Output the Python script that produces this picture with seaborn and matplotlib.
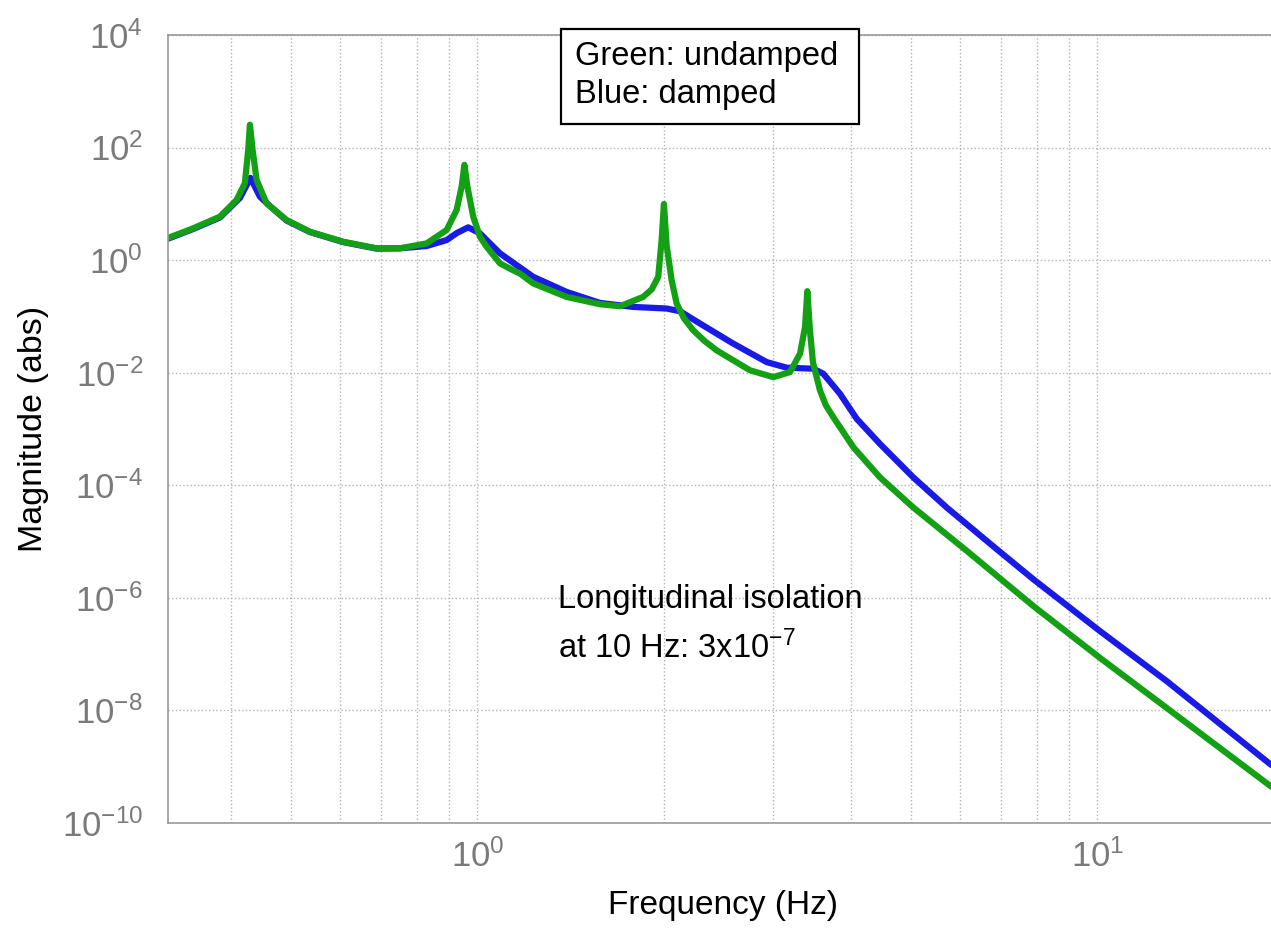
import numpy as np
import matplotlib
matplotlib.use("Agg")
import matplotlib.pyplot as plt
import matplotlib.ticker as mticker
from matplotlib.patches import Rectangle
import seaborn as sns

# transfer function magnitude (freq in Hz, magnitude abs)
green_freq = [0.317, 0.348, 0.3843, 0.4089, 0.4217, 0.4270, 0.4297, 0.4340, 0.4405, 0.4571,
              0.4923, 0.5370, 0.6076, 0.6880, 0.7501, 0.8283, 0.8923, 0.9260, 0.9434, 0.9532,
              0.9638, 0.9849, 1.0097, 1.035, 1.088, 1.141, 1.171, 1.231, 1.393, 1.577, 1.699,
              1.852, 1.912, 1.958, 1.983, 2.000, 2.020, 2.058, 2.097, 2.154, 2.230, 2.329, 2.433, 2.754,
              3.002, 3.194, 3.316, 3.378, 3.407, 3.440, 3.479, 3.571, 3.651, 3.752, 4.043,
              4.462, 5.05, 6.16, 7.886, 10.10, 12.95, 19.07]
green_mag = [2.47, 3.67, 5.91, 11.7, 23.2, 91, 254, 91, 26.6, 10.2,
             5.16, 3.19, 2.12, 1.62, 1.62, 1.98, 3.42, 7.77, 20.2, 49.2,
             20.2, 5.91, 2.60, 1.73, 0.873, 0.663, 0.579, 0.385, 0.222, 0.1645, 0.1516,
             0.222, 0.304, 0.504, 2.27, 9.94, 1.85, 0.44, 0.169, 0.0927, 0.0566, 0.0361, 0.0249, 0.011,
             0.00834, 0.01024, 0.0218, 0.0648, 0.28, 0.0566, 0.01525, 0.00483, 0.00261, 0.00162, 4.72e-4,
             1.38e-4, 4.03e-5, 6.83e-6, 7.16e-7, 8.59e-8, 1.10e-8, 4.45e-10]

blue_freq = [0.317, 0.348, 0.3843, 0.414, 0.4306, 0.4459, 0.4627, 0.4923, 0.537, 0.6076,
             0.688, 0.7501, 0.8283, 0.8923, 0.927, 0.9667, 1.0097, 1.088, 1.231, 1.393,
             1.577, 1.784, 2.02, 2.123, 2.287, 2.588, 2.929, 3.155, 3.483, 3.615,
             3.846, 4.093, 4.462, 5.05, 5.716, 6.884, 7.886, 10.10, 12.95, 19.07]
blue_mag = [2.4, 3.57, 5.71, 12.7, 28.9, 13.4, 9.16, 5.05, 3.15, 2.09,
            1.60, 1.62, 1.78, 2.27, 3.03, 3.82, 2.99, 1.316, 0.504, 0.2724,
            0.1735, 0.1473, 0.138, 0.1235, 0.0746, 0.0328, 0.01543, 0.01227, 0.01177, 0.00959,
            0.00422, 0.001515, 5.43e-4, 1.38e-4, 4.03e-5, 7.32e-6, 2.14e-6, 2.57e-7, 3.30e-8, 1.08e-9]

y_ticks = [1e-10, 1e-8, 1e-6, 1e-4, 1e-2, 1e0, 1e2, 1e4]
y_tick_labels = [r"$\mathregular{10^{-10}}$", r"$\mathregular{10^{-8}}$", r"$\mathregular{10^{-6}}$",
                 r"$\mathregular{10^{-4}}$", r"$\mathregular{10^{-2}}$", r"$\mathregular{10^{0}}$",
                 r"$\mathregular{10^{2}}$", r"$\mathregular{10^{4}}$"]
x_ticks = [1, 10]
x_tick_labels = [r"$\mathregular{10^{0}}$", r"$\mathregular{10^{1}}$"]

sns.set_style("white")
plt.rcParams["font.family"] = ["Liberation Sans", "DejaVu Sans"]
plt.rcParams["text.color"] = "black"

fig = plt.figure(figsize=(12.71, 9.30), dpi=100)
ax = fig.add_axes([0.1322, 0.1151, 0.8678, 0.8473])

sns.lineplot(x=blue_freq, y=blue_mag, ax=ax, color="#1a1ae6", linewidth=4.5,
             estimator=None, sort=False)
sns.lineplot(x=green_freq, y=green_mag, ax=ax, color="#14a014", linewidth=4.5,
             estimator=None, sort=False)

ax.set_xscale("log")
ax.set_yscale("log")
ax.set_xlim(0.317, 19.07)
ax.set_ylim(1e-10, 1e4)

ax.yaxis.set_major_locator(mticker.FixedLocator(y_ticks))
ax.yaxis.set_major_formatter(mticker.FixedFormatter(y_tick_labels))
ax.yaxis.set_minor_locator(mticker.NullLocator())
ax.xaxis.set_major_locator(mticker.FixedLocator(x_ticks))
ax.xaxis.set_major_formatter(mticker.FixedFormatter(x_tick_labels))
ax.xaxis.set_minor_locator(mticker.LogLocator(base=10, subs=np.arange(2, 10)))
ax.xaxis.set_minor_formatter(mticker.NullFormatter())

ax.grid(True, which="both", axis="x", linestyle=":", color="#b4b4b4", linewidth=1)
ax.grid(True, which="major", axis="y", linestyle=":", color="#b4b4b4", linewidth=1)

ax.tick_params(axis="both", which="both", direction="in", colors="#808080",
               labelcolor="#7a7a7a", labelsize=25, length=6, width=1)
ax.tick_params(axis="y", pad=18)
ax.tick_params(axis="x", pad=12)

for side in ["left", "top", "bottom"]:
    ax.spines[side].set_color("#999999")
    ax.spines[side].set_linewidth(1.2)
ax.spines["right"].set_visible(False)

ax.set_xlabel("Frequency (Hz)", fontsize=24, color="black")
ax.xaxis.set_label_coords(0.503, -0.085)
ax.set_ylabel("Magnitude (abs)", fontsize=24.5, color="black")
ax.yaxis.set_label_coords(-0.108, 0.5)

# annotation in the lower middle
ax.text(0.3536, 0.2728, "Longitudinal isolation", transform=ax.transAxes,
        fontsize=23.5, va="baseline", ha="left", color="black")
ax.text(0.3536, 0.2094, r"at 10 Hz: 3x10$\mathregular{^{-7}}$", transform=ax.transAxes,
        fontsize=23.5, va="baseline", ha="left", color="black")

# boxed key at the top
fig.patches.append(Rectangle((0.4411, 0.8667), 0.2347, 0.1021, transform=fig.transFigure,
                             fill=True, facecolor="white", edgecolor="black", linewidth=1.6,
                             zorder=5))
fig.text(0.4524, 0.9301, "Green: undamped", fontsize=23.5, va="baseline", color="black", zorder=6)
fig.text(0.4524, 0.8892, "Blue: damped", fontsize=23.5, va="baseline", color="black", zorder=6)

fig.savefig("out.png", dpi=100)
